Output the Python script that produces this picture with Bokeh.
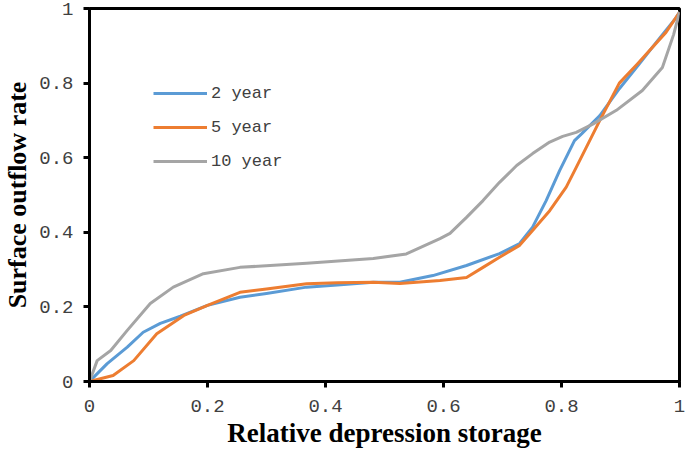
from bokeh.plotting import figure
from bokeh.models import Range1d, FixedTicker, Legend, LegendItem
from bokeh.embed import file_html
from bokeh.resources import INLINE

# ---- data ----
x_2yr = [0, 0.03, 0.064, 0.091, 0.12, 0.154, 0.2, 0.255, 0.3, 0.368, 0.42, 0.481, 0.526, 0.582,
         0.639, 0.695, 0.729, 0.751, 0.774, 0.797, 0.822, 0.834, 0.865, 0.898, 0.932, 0.966, 0.994, 1]
y_2yr = [0, 0.048, 0.092, 0.132, 0.156, 0.175, 0.204, 0.226, 0.236, 0.253, 0.259, 0.266, 0.266, 0.284,
         0.311, 0.343, 0.37, 0.414, 0.485, 0.566, 0.646, 0.664, 0.713, 0.785, 0.852, 0.92, 0.975, 0.99]

x_5yr = [0, 0.04, 0.075, 0.114, 0.16, 0.2, 0.255, 0.3, 0.368, 0.42, 0.481, 0.526, 0.594, 0.639,
         0.667, 0.695, 0.729, 0.751, 0.78, 0.808, 0.825, 0.865, 0.898, 0.929, 0.977, 1]
y_5yr = [0, 0.016, 0.056, 0.128, 0.177, 0.204, 0.239, 0.248, 0.262, 0.265, 0.266, 0.263, 0.271, 0.279,
         0.306, 0.333, 0.365, 0.405, 0.458, 0.521, 0.574, 0.70, 0.80, 0.852, 0.936, 0.99]

x_10yr = [0, 0.013, 0.036, 0.064, 0.103, 0.142, 0.193, 0.255, 0.368, 0.481, 0.537, 0.594, 0.611,
          0.639, 0.667, 0.695, 0.724, 0.751, 0.78, 0.802, 0.825, 0.853, 0.893, 0.937, 0.971, 0.99, 1]
y_10yr = [0, 0.056, 0.083, 0.137, 0.209, 0.253, 0.289, 0.306, 0.317, 0.33, 0.342, 0.383, 0.397,
          0.44, 0.485, 0.534, 0.579, 0.611, 0.642, 0.657, 0.668, 0.69, 0.727, 0.78, 0.842, 0.93, 0.99]

series_names = ["2 year", "5 year", "10 year"]
series_colors = ["#5B9BD5", "#ED7D31", "#A5A5A5"]
ticks = [0, 0.2, 0.4, 0.6, 0.8, 1]

p = figure(width=685, height=450, output_backend="svg", toolbar_location=None,
           x_range=Range1d(0, 1), y_range=Range1d(0, 1),
           min_border_left=89, min_border_right=6, min_border_top=8, min_border_bottom=69)
p.grid.visible = False
p.outline_line_color = "black"
p.outline_line_width = 3
p.background_fill_color = "white"
p.border_fill_color = "white"

for ax in (p.xaxis[0], p.yaxis[0]):
    ax.ticker = FixedTicker(ticks=ticks)
    ax.axis_line_color = "black"
    ax.axis_line_width = 3
    ax.major_tick_line_color = "black"
    ax.major_tick_line_width = 3
    ax.major_tick_out = 6
    ax.major_tick_in = 0
    ax.minor_tick_line_color = None
    ax.major_label_text_font = "Liberation Mono"
    ax.major_label_text_font_size = "19px"
    ax.major_label_text_color = "#404040"
    ax.axis_label_text_font = "Liberation Serif"
    ax.axis_label_text_font_style = "bold"
    ax.axis_label_text_color = "black"
    ax.major_label_overrides = {0: "0", 1: "1"}

p.xaxis.axis_label = "Relative depression storage"
p.yaxis.axis_label = "Surface outflow rate"
p.xaxis.axis_label_text_font_size = "27px"
p.yaxis.axis_label_text_font_size = "26px"
p.xaxis.major_label_standoff = 12
p.yaxis.major_label_standoff = 10
p.xaxis.axis_label_standoff = 3
p.yaxis.axis_label_standoff = 4

xs = [x_2yr, x_5yr, x_10yr]
ys = [y_2yr, y_5yr, y_10yr]
items = []
for name, color, xv, yv in zip(series_names, series_colors, xs, ys):
    r = p.line(xv, yv, line_color=color, line_width=3, line_join="round")
    items.append(LegendItem(label=name, renderers=[r]))

legend = Legend(items=items, location=(64, 210),
                label_text_font="Liberation Mono", label_text_font_size="17px",
                label_text_color="#404040", glyph_width=54, glyph_height=20,
                label_height=20, spacing=14, padding=0, margin=0,
                label_standoff=4, border_line_color=None, background_fill_alpha=0)
p.add_layout(legend)

open("out.html", "w").write(file_html(p, INLINE))
